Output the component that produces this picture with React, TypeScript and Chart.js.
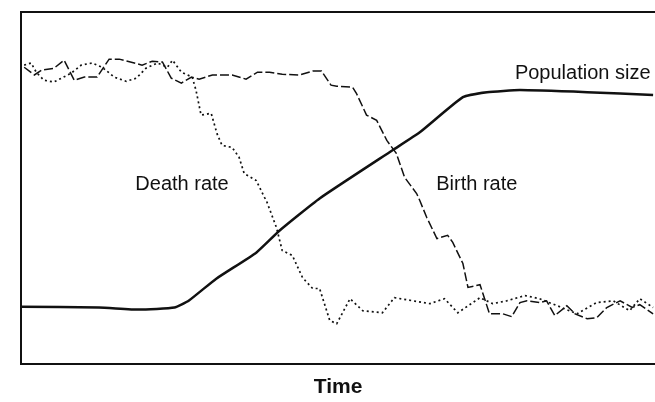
import React, { useEffect, useRef } from "react";
import { Chart, registerables } from "chart.js";

Chart.register(...registerables);

// Time axis runs 0..100 (arbitrary units), rates/size 0..100 (relative)
const popTime = [0, 12.3, 18.6, 24.2, 26.5, 30.8, 37.1, 40.8, 47.1, 58.6, 62.9, 69.7, 73.5, 78.7, 89.3, 99.7];
const popValues = [16.2, 16.0, 15.4, 16.0, 18.0, 24.2, 31.6, 37.9, 47.0, 60.7, 65.8, 75.8, 77.2, 77.8, 77.2, 76.4];

const birthTime = [0.5, 2.1, 3.3, 5.2, 6.8, 8.4, 10.0, 12.0, 13.9, 15.5, 19.1, 20.7, 22.3, 23.7, 25.3, 26.9, 28.1, 30.2, 33.3, 35.5, 37.3, 39.2, 41.2, 43.9, 46.0, 47.4, 48.9, 49.8, 52.3, 52.9, 54.5, 56.1, 57.7, 59.2, 60.5, 62.4, 62.9, 64.0, 65.6, 67.3, 68.1, 69.7, 70.5, 72.4, 73.9, 76.0, 77.4, 78.7, 79.8, 81.8, 82.9, 84.2, 86.1, 87.4, 89.3, 90.8, 92.4, 94.5, 96.4, 97.6, 99.7];
const birthValues = [84.3, 82.1, 83.5, 84.0, 86.3, 80.6, 81.5, 81.5, 86.6, 86.6, 84.9, 86.0, 85.8, 81.2, 79.8, 81.5, 80.9, 82.1, 82.1, 80.9, 82.9, 82.9, 82.3, 82.1, 83.2, 83.2, 79.2, 78.9, 78.6, 76.9, 70.7, 69.2, 63.5, 59.8, 53.0, 48.4, 46.4, 41.6, 35.6, 36.5, 34.5, 28.5, 21.7, 22.5, 14.2, 14.2, 13.4, 17.4, 17.9, 17.4, 17.9, 13.7, 16.5, 14.2, 12.8, 13.1, 16.0, 17.9, 16.0, 16.8, 14.2];

const deathTime = [0.5, 1.6, 2.4, 3.6, 5.2, 7.9, 9.5, 11.2, 12.8, 14.7, 16.6, 18.2, 19.7, 21.5, 23.1, 23.9, 25.3, 27.0, 27.6, 28.4, 30.0, 30.9, 31.7, 33.3, 34.4, 35.2, 37.1, 38.4, 38.7, 40.3, 41.2, 42.8, 44.4, 46.0, 47.1, 48.7, 49.8, 51.9, 53.9, 57.0, 58.9, 64.5, 66.8, 68.9, 72.4, 74.4, 76.6, 79.5, 81.8, 85.0, 87.7, 90.8, 93.4, 96.0, 97.6, 99.7];
const deathValues = [84.9, 85.5, 82.9, 80.6, 80.1, 82.6, 84.9, 85.5, 84.3, 81.5, 80.3, 81.2, 84.0, 85.5, 84.3, 86.3, 82.9, 81.5, 77.8, 70.7, 71.2, 65.5, 62.1, 61.5, 58.7, 54.1, 52.1, 47.3, 46.4, 38.7, 32.2, 30.8, 24.5, 21.4, 21.4, 12.3, 11.4, 18.5, 15.1, 14.5, 18.8, 17.1, 18.5, 14.5, 18.8, 17.1, 17.9, 19.4, 18.5, 16.2, 14.2, 17.4, 17.9, 15.1, 18.5, 16.0];

const labelTexts = ["Population size", "Death rate", "Birth rate"];
const axisTitle = "Time";

const zip = (xs: number[], ys: number[]) => xs.map((x, i) => ({ x, y: ys[i] }));

const labelPlugin = {
  id: "curveLabels",
  afterDatasetsDraw(chart: any) {
    const { ctx, scales } = chart;
    const xs = scales.x;
    const ys = scales.y;
    const spots = [
      { text: labelTexts[0], t: 77.9, v: 80.9, align: "left" },
      { text: labelTexts[1], t: 25.4, v: 49.3, align: "center" },
      { text: labelTexts[2], t: 71.9, v: 49.3, align: "center" },
    ];
    ctx.save();
    ctx.fillStyle = "#111";
    ctx.font = "20px 'Liberation Sans', Arial, sans-serif";
    ctx.textBaseline = "alphabetic";
    for (const s of spots) {
      ctx.textAlign = s.align;
      ctx.fillText(s.text, xs.getPixelForValue(s.t), ys.getPixelForValue(s.v));
    }
    ctx.restore();
  },
};

export default function App() {
  const ref = useRef<HTMLCanvasElement | null>(null);

  useEffect(() => {
    document.body.style.margin = "0";
    const canvas = ref.current!;
    const chart = new Chart(canvas, {
      type: "line",
      data: {
        datasets: [
          {
            label: "Population size",
            data: zip(popTime, popValues),
            borderColor: "#111",
            borderWidth: 2.5,
            pointRadius: 0,
            tension: 0.15,
            fill: false,
          },
          {
            label: "Birth rate",
            data: zip(birthTime, birthValues),
            borderColor: "#111",
            borderWidth: 1.5,
            borderDash: [9, 3],
            pointRadius: 0,
            tension: 0,
            fill: false,
          },
          {
            label: "Death rate",
            data: zip(deathTime, deathValues),
            borderColor: "#111",
            borderWidth: 1.7,
            borderDash: [2, 3],
            pointRadius: 0,
            tension: 0,
            fill: false,
          },
        ],
      },
      options: {
        animation: false,
        responsive: false,
        maintainAspectRatio: false,
        layout: { padding: { left: 21, right: 0, top: 12, bottom: 0 } },
        plugins: { legend: { display: false }, tooltip: { enabled: false } },
        scales: {
          x: {
            type: "linear",
            min: 0,
            max: 100,
            grid: { display: false, drawTicks: false },
            border: { display: true, color: "#111", width: 2 },
            ticks: { display: false },
            title: {
              display: true,
              text: axisTitle,
              color: "#111",
              font: { family: "'Liberation Sans', Arial, sans-serif", size: 21, weight: "bold" },
              padding: { top: 11, bottom: 2 },
            },
          },
          x2: {
            type: "linear",
            position: "top",
            min: 0,
            max: 100,
            grid: { display: false, drawTicks: false },
            border: { display: true, color: "#111", width: 2 },
            ticks: { display: false },
          },
          y: {
            min: 0,
            max: 100,
            grid: { display: false, drawTicks: false },
            border: { display: true, color: "#111", width: 2 },
            ticks: { display: false },
          },
        },
      },
      plugins: [labelPlugin],
    } as any);
    return () => chart.destroy();
  }, []);

  return (
    <div style={{ position: "absolute", left: 0, top: 0, width: 655, height: 402, background: "#fff" }}>
      <canvas ref={ref} width={655} height={402} style={{ width: 655, height: 402, display: "block" }} />
    </div>
  );
}
